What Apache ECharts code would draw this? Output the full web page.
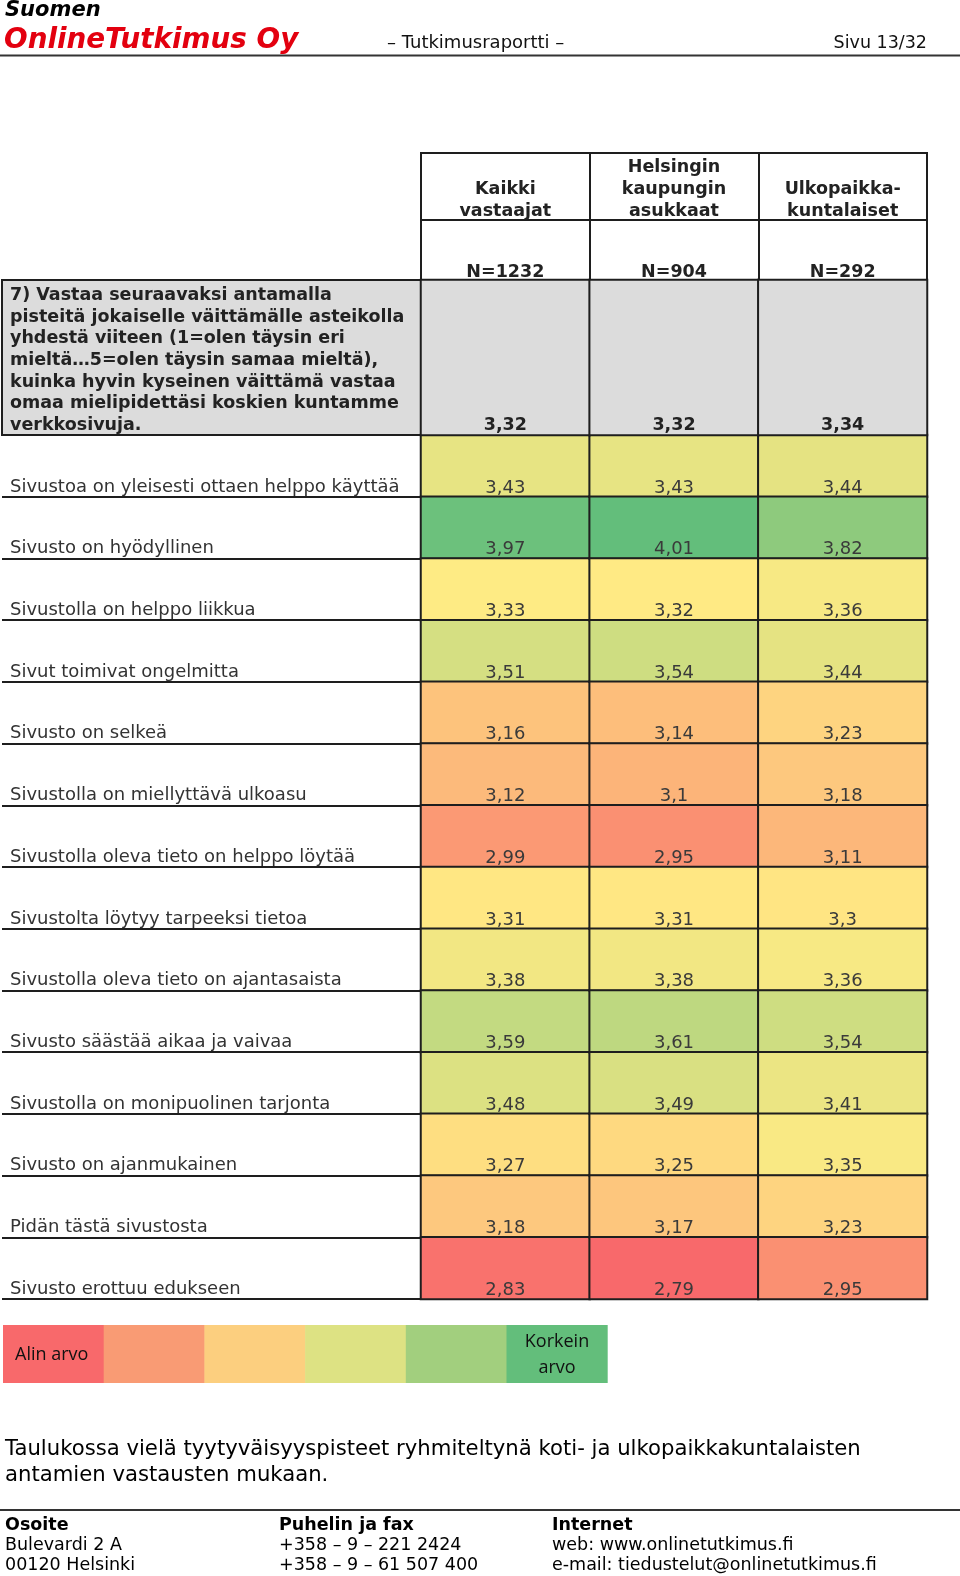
<!DOCTYPE html>
<html>
<head>
<meta charset="utf-8">
<script src="https://cdn.jsdelivr.net/npm/echarts@6/dist/echarts.min.js"></script>
<style>html,body{margin:0;padding:0;background:#fff}#c{width:960px;height:1576px}</style>
</head>
<body>
<div id="c"></div>
<script>
// ---- data ----
const groups = ['Kaikki\nvastaajat', 'Helsingin\nkaupungin\nasukkaat', 'Ulkopaikka-\nkuntalaiset'];
const sampleSizes = ['N=1232', 'N=904', 'N=292'];
const question = '7) Vastaa seuraavaksi antamalla\npisteitä jokaiselle väittämälle asteikolla\nyhdestä viiteen (1=olen täysin eri\nmieltä…5=olen täysin samaa mieltä),\nkuinka hyvin kyseinen väittämä vastaa\nomaa mielipidettäsi koskien kuntamme\nverkkosivuja.';
const overall = [3.32, 3.32, 3.34];
const statements = [
  'Sivustoa on yleisesti ottaen helppo käyttää',
  'Sivusto on hyödyllinen',
  'Sivustolla on helppo liikkua',
  'Sivut toimivat ongelmitta',
  'Sivusto on selkeä',
  'Sivustolla on miellyttävä ulkoasu',
  'Sivustolla oleva tieto on helppo löytää',
  'Sivustolta löytyy tarpeeksi tietoa',
  'Sivustolla oleva tieto on ajantasaista',
  'Sivusto säästää aikaa ja vaivaa',
  'Sivustolla on monipuolinen tarjonta',
  'Sivusto on ajanmukainen',
  'Pidän tästä sivustosta',
  'Sivusto erottuu edukseen'
];
const allRespondents = [3.43, 3.97, 3.33, 3.51, 3.16, 3.12, 2.99, 3.31, 3.38, 3.59, 3.48, 3.27, 3.18, 2.83];
const helsinkiResidents = [3.43, 4.01, 3.32, 3.54, 3.14, 3.1, 2.95, 3.31, 3.38, 3.61, 3.49, 3.25, 3.17, 2.79];
const otherMunicipalities = [3.44, 3.82, 3.36, 3.44, 3.23, 3.18, 3.11, 3.3, 3.36, 3.54, 3.41, 3.35, 3.23, 2.95];
const legendLow = 'Alin arvo';
const legendHigh = 'Korkein\narvo';

// ---- build ----
const columns = [allRespondents, helsinkiResidents, otherMunicipalities];
const cells = [];
columns.forEach((col, c) => col.forEach((v, r) => cells.push([c, r, v])));
const allVals = cells.map(d => d[2]).sort((a, b) => a - b);
const vMin = allVals[0], vMax = allVals[allVals.length - 1];
const n = allVals.length;
const vMid = n % 2 ? allVals[(n - 1) / 2] : (allVals[n / 2 - 1] + allVals[n / 2]) / 2;

const RED = [248, 105, 107], YEL = [255, 235, 132], GRN = [99, 190, 123];
function mix(a, b, t) { return 'rgb(' + a.map((x, i) => Math.round(x + (b[i] - x) * t)).join(',') + ')'; }
const stops = [];
for (let i = 0; i <= 80; i++) {
  const v = vMin + (vMax - vMin) * i / 80;
  stops.push(v <= vMid ? mix(RED, YEL, (v - vMin) / (vMid - vMin)) : mix(YEL, GRN, (v - vMid) / (vMax - vMid)));
}
const fmt = v => String(v).replace('.', ',');
const FONT = 'DejaVu Sans';
const LINE = '#1e1e1e';

const chart = echarts.init(document.getElementById('c'), null, { renderer: 'canvas' });
const legendColors = ['#F8696B', '#F99B74', '#FCCF7F', '#DDE283', '#A2CF7E', '#63BE7B'];
const legendGraphics = legendColors.map((col, i) => ({
  type: 'rect', shape: { x: 3 + i * 100.7, y: 1325, width: 101.2, height: 58 }, style: { fill: col }, silent: true
}));

chart.setOption({
  animation: false,
  backgroundColor: '#fff',
  grid: [
    { left: 421, top: 435, width: 506, height: 864 },
    { left: 421, top: 280, width: 506, height: 155 }
  ],
  visualMap: {
    type: 'continuous', show: false, min: vMin, max: vMax, dimension: 2, seriesIndex: 0,
    inRange: { color: stops }
  },
  xAxis: [
    { type: 'category', gridIndex: 0, data: groups, show: false },
    {
      type: 'category', gridIndex: 1, data: groups, position: 'top',
      axisLine: { show: true, lineStyle: { color: LINE, width: 2 } },
      axisTick: { show: true, interval: 0, length: 127, lineStyle: { color: LINE, width: 2 } },
      axisLabel: {
        interval: 0, margin: -1, verticalAlign: 'bottom',
        formatter: (val, idx) => val.split('\n').map(s => '{h|' + s + '}').join('\n') + '\n{g| }\n{n|' + sampleSizes[idx] + '}',
        rich: {
          h: { fontFamily: FONT, fontWeight: 'bold', fontSize: 17.5, lineHeight: 21.7, color: '#222' },
          g: { fontSize: 10, lineHeight: 41 },
          n: { fontFamily: FONT, fontWeight: 'bold', fontSize: 17.5, lineHeight: 18, color: '#222' }
        }
      },
      splitLine: { show: false }
    }
  ],
  yAxis: [
    {
      type: 'category', gridIndex: 0, data: statements, inverse: true,
      axisLine: { show: true, lineStyle: { color: LINE, width: 2 } },
      axisTick: { show: true, interval: 0, length: 419, lineStyle: { color: LINE, width: 2 } },
      axisLabel: {
        interval: 0, align: 'left', margin: 411, verticalAlign: 'top', lineHeight: 42,
        fontFamily: FONT, fontSize: 18, color: '#333'
      },
      splitLine: { show: false }
    },
    {
      type: 'category', gridIndex: 1, data: [question],
      axisLine: { show: true, lineStyle: { color: LINE, width: 2 } },
      axisTick: { show: true, interval: 0, length: 419, lineStyle: { color: LINE, width: 2 } },
      axisLabel: {
        interval: 0, align: 'left', margin: 411, lineHeight: 21.7,
        fontFamily: FONT, fontWeight: 'bold', fontSize: 17.5, color: '#222',
        formatter: v => '{s| }\n' + v,
        rich: { s: { fontSize: 4, lineHeight: 6 } }
      },
      splitLine: { show: false }
    }
  ],
  series: [
    {
      type: 'heatmap', xAxisIndex: 0, yAxisIndex: 0, data: cells,
      itemStyle: { borderColor: LINE, borderWidth: 2 },
      label: {
        show: true, position: 'insideBottom', distance: 1,
        fontFamily: FONT, fontSize: 18, color: '#3a3a3a',
        formatter: p => fmt(p.value[2])
      },
      emphasis: { disabled: true }
    },
    {
      type: 'heatmap', xAxisIndex: 1, yAxisIndex: 1,
      data: overall.map((v, c) => [c, 0, v]),
      itemStyle: { color: '#DCDCDC', borderColor: LINE, borderWidth: 2 },
      label: {
        show: true, position: 'insideBottom', distance: 1.5,
        fontFamily: FONT, fontWeight: 'bold', fontSize: 17.5, color: '#222',
        formatter: p => fmt(p.value[2])
      },
      emphasis: { disabled: true }
    }
  ],
  graphic: [
    { type: 'rect', z: -10, shape: { x: 2, y: 280, width: 419, height: 155 }, style: { fill: '#DCDCDC', stroke: LINE, lineWidth: 2 }, silent: true },
    { type: 'line', shape: { x1: 420, y1: 153, x2: 928, y2: 153 }, style: { stroke: LINE, lineWidth: 2 }, silent: true },
    { type: 'line', shape: { x1: 420, y1: 220, x2: 928, y2: 220 }, style: { stroke: LINE, lineWidth: 2 }, silent: true },
    // page header
    { type: 'text', x: 5, y: 11, style: { text: 'Suomen', fill: '#000', font: 'italic bold 21px "DejaVu Sans"', verticalAlign: 'middle' } },
    { type: 'text', x: 4, y: 41, style: { text: 'OnlineTutkimus Oy', fill: '#E3000F', font: 'italic bold 27.8px "DejaVu Sans"', verticalAlign: 'middle' } },
    { type: 'text', x: 387, y: 43, style: { text: '– Tutkimusraportti –', fill: '#111', font: '18px "DejaVu Sans"', verticalAlign: 'middle' } },
    { type: 'text', x: 927, y: 43, style: { text: 'Sivu 13/32', fill: '#111', font: '17.5px "DejaVu Sans"', align: 'right', verticalAlign: 'middle' } },
    { type: 'line', shape: { x1: 0, y1: 55.5, x2: 960, y2: 55.5 }, style: { stroke: '#333', lineWidth: 2 }, silent: true },
    // legend
    ...legendGraphics,
    { type: 'text', x: 15, y: 1355, style: { text: legendLow, fill: '#111', font: '18px "Open Sans"', verticalAlign: 'middle' } },
    { type: 'text', x: 557, y: 1355, style: { text: legendHigh, fill: '#111', font: '18px "Open Sans"', align: 'center', verticalAlign: 'middle', lineHeight: 26 } },
    // paragraph
    { type: 'text', x: 5, y: 1449, style: { text: 'Taulukossa vielä tyytyväisyyspisteet ryhmiteltynä koti- ja ulkopaikkakuntalaisten', fill: '#000', font: '21.2px "DejaVu Sans"', verticalAlign: 'middle' } },
    { type: 'text', x: 5, y: 1475, style: { text: 'antamien vastausten mukaan.', fill: '#000', font: '21.2px "DejaVu Sans"', verticalAlign: 'middle' } },
    // footer
    { type: 'line', shape: { x1: 0, y1: 1510, x2: 960, y2: 1510 }, style: { stroke: '#333', lineWidth: 2 }, silent: true },
    { type: 'text', x: 5, y: 1525, style: { text: 'Osoite', fill: '#000', font: 'bold 17.5px "DejaVu Sans"', verticalAlign: 'middle' } },
    { type: 'text', x: 5, y: 1545, style: { text: 'Bulevardi 2 A', fill: '#000', font: '17.5px "DejaVu Sans"', verticalAlign: 'middle' } },
    { type: 'text', x: 5, y: 1565, style: { text: '00120 Helsinki', fill: '#000', font: '17.5px "DejaVu Sans"', verticalAlign: 'middle' } },
    { type: 'text', x: 279, y: 1525, style: { text: 'Puhelin ja fax', fill: '#000', font: 'bold 17.5px "DejaVu Sans"', verticalAlign: 'middle' } },
    { type: 'text', x: 279, y: 1545, style: { text: '+358 – 9 – 221 2424', fill: '#000', font: '17.5px "DejaVu Sans"', verticalAlign: 'middle' } },
    { type: 'text', x: 279, y: 1565, style: { text: '+358 – 9 – 61 507 400', fill: '#000', font: '17.5px "DejaVu Sans"', verticalAlign: 'middle' } },
    { type: 'text', x: 552, y: 1525, style: { text: 'Internet', fill: '#000', font: 'bold 17.5px "DejaVu Sans"', verticalAlign: 'middle' } },
    { type: 'text', x: 552, y: 1545, style: { text: 'web: www.onlinetutkimus.fi', fill: '#000', font: '17.5px "DejaVu Sans"', verticalAlign: 'middle' } },
    { type: 'text', x: 552, y: 1565, style: { text: 'e-mail: tiedustelut@onlinetutkimus.fi', fill: '#000', font: '17.5px "DejaVu Sans"', verticalAlign: 'middle' } }
  ]
});
</script>
</body>
</html>
